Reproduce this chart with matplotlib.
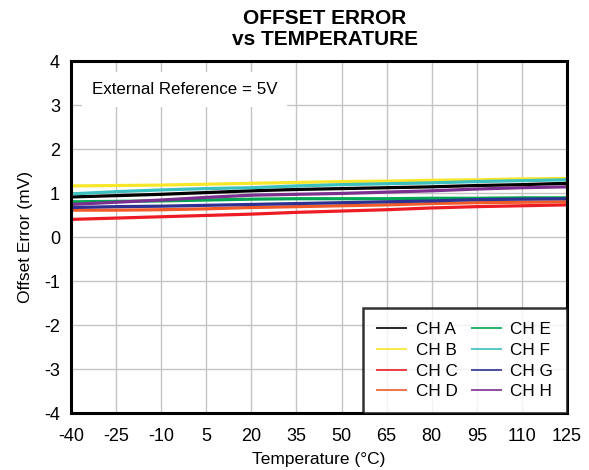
import matplotlib

matplotlib.use("Agg")
import matplotlib.pyplot as plt

plt.rcParams["font.family"] = ["Liberation Sans", "DejaVu Sans"]
plt.rcParams["axes.unicode_minus"] = False

# Offset error (mV) per channel at each x tick
temps = [-40, -25, -10, 5, 20, 35, 50, 65, 80, 95, 110, 125]
ch_a = [0.91, 0.94, 0.97, 1.01, 1.05, 1.08, 1.10, 1.12, 1.14, 1.17, 1.19, 1.22]
ch_b = [1.16, 1.17, 1.18, 1.20, 1.22, 1.24, 1.26, 1.27, 1.29, 1.30, 1.32, 1.33]
ch_c = [0.40, 0.43, 0.46, 0.49, 0.52, 0.56, 0.59, 0.62, 0.66, 0.69, 0.71, 0.73]
ch_d = [0.61, 0.61, 0.62, 0.64, 0.67, 0.69, 0.71, 0.73, 0.76, 0.78, 0.79, 0.80]
ch_e = [0.80, 0.81, 0.82, 0.84, 0.86, 0.87, 0.87, 0.87, 0.88, 0.88, 0.89, 0.89]
ch_f = [0.98, 1.03, 1.07, 1.10, 1.12, 1.16, 1.19, 1.21, 1.23, 1.26, 1.28, 1.30]
ch_g = [0.67, 0.69, 0.70, 0.72, 0.74, 0.76, 0.78, 0.80, 0.82, 0.85, 0.86, 0.87]
ch_h = [0.74, 0.79, 0.84, 0.90, 0.95, 0.97, 0.99, 1.02, 1.05, 1.09, 1.12, 1.14]

channels = ["CH A", "CH B", "CH C", "CH D", "CH E", "CH F", "CH G", "CH H"]
series = [ch_a, ch_b, ch_c, ch_d, ch_e, ch_f, ch_g, ch_h]
colors = ["#000000", "#f7e62a", "#ed1c24", "#f15a29", "#00a651", "#3cbfbf", "#2e3192", "#7b2f8e"]

fig = plt.figure(figsize=(5.89, 4.70), dpi=100)
ax = fig.add_axes([71 / 589, 1 - 413 / 470, 496 / 589, 352 / 470])

for name, vals, col in zip(channels, series, colors):
    ax.plot(temps, vals, color=col, lw=2.3, label=name, solid_capstyle="butt")

ax.set_xlim(-40, 125)
ax.set_ylim(-4, 4)
ax.set_xticks(temps)
ax.set_yticks(range(-4, 5))
ax.grid(True, color="#c4c4c4", lw=1.0)
ax.set_axisbelow(True)
ax.tick_params(length=0, labelsize=13, pad=8)
ax.tick_params(axis="x", pad=11)
for s in ax.spines.values():
    s.set_linewidth(2.2)

ax.set_xlabel("Temperature (°C)", fontsize=12.5, labelpad=5)
ax.set_ylabel("Offset Error (mV)", fontsize=12.5, labelpad=8)
fig.text(325 / 589, 1 - 29 / 470, "OFFSET ERROR\nvs TEMPERATURE", ha="center", va="center",
         fontsize=15, fontweight="bold", linespacing=1.1)

ax.text(-33, 3.35, "External Reference = 5V", fontsize=12.2, va="center", ha="left",
        bbox=dict(facecolor="white", edgecolor="none", pad=7))

leg = ax.legend(loc="lower right", ncol=2, fontsize=12.3, frameon=True, fancybox=False,
                borderaxespad=0, handlelength=1.8, handletextpad=0.5, columnspacing=0.8,
                labelspacing=0.34, borderpad=0.8)
leg.get_frame().set_edgecolor("black")
leg.get_frame().set_linewidth(1.8)
for ln in leg.get_lines():
    ln.set_linewidth(1.2)

fig.savefig("out.png", dpi=100)
